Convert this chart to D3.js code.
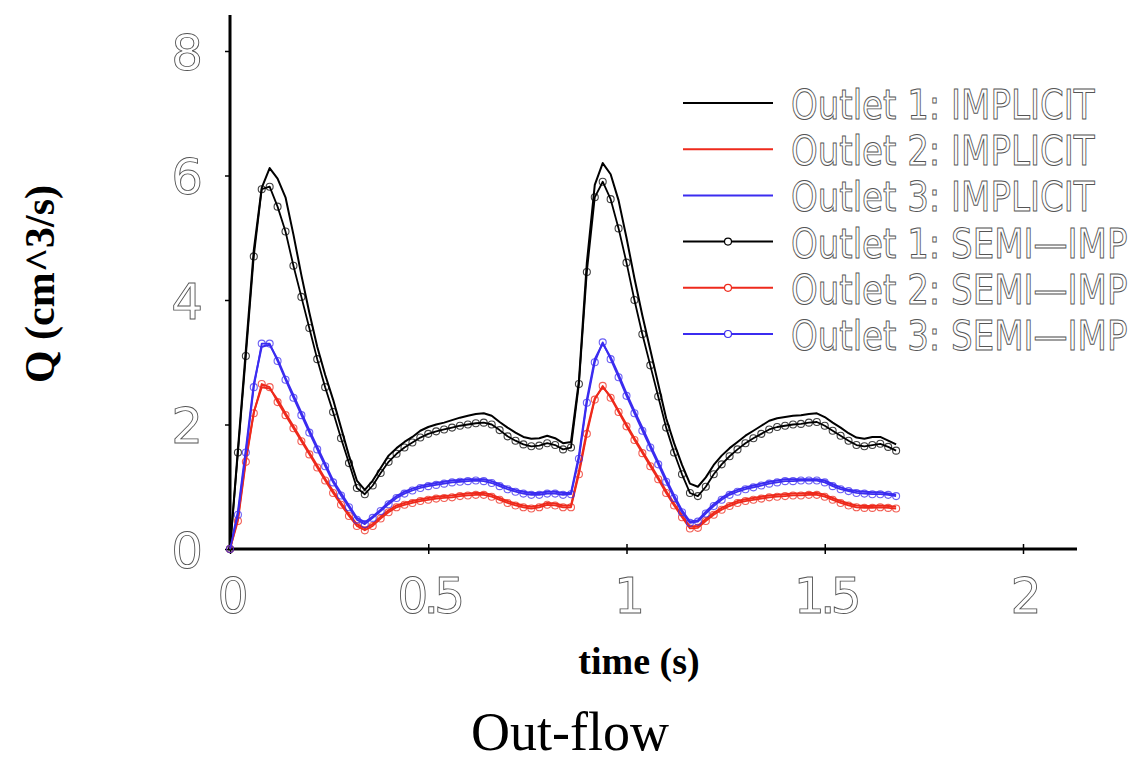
<!DOCTYPE html>
<html>
<head>
<meta charset="utf-8">
<script src="https://cdn.jsdelivr.net/npm/d3@7"></script>
<style>
  body { margin: 0; background: #fff; }
  svg { display: block; }
</style>
</head>
<body>
<svg id="chart" width="1138" height="765"></svg>
<script>
// sample times (s), one value every 0.02 s
const time = d3.range(0, 85).map(i => +(i * 0.02).toFixed(2));

// flow rates Q (cm^3/s)
const outlet1Implicit = [0, 1.6, 3.2, 4.8, 5.8, 6.12, 5.95, 5.65, 5.05, 4.4, 3.8, 3.25, 2.8, 2.4, 1.95, 1.5, 1.1, 0.95, 1.1, 1.3,
  1.5, 1.62, 1.72, 1.8, 1.9, 1.96, 2.0, 2.03, 2.07, 2.11, 2.14, 2.17, 2.18, 2.14, 2.04, 1.95, 1.87, 1.8, 1.77, 1.78,
  1.82, 1.78, 1.7, 1.72, 2.7, 4.6, 5.85, 6.2, 6.02, 5.6, 5.0, 4.35, 3.75, 3.2, 2.65, 2.1, 1.7, 1.35, 1.05, 1.0,
  1.15, 1.35, 1.5, 1.62, 1.72, 1.82, 1.9, 1.98, 2.06, 2.1, 2.12, 2.14, 2.15, 2.17, 2.18, 2.12, 2.03, 1.95, 1.86, 1.79,
  1.77, 1.8, 1.8, 1.74, 1.68];
const outlet2Implicit = [0, 0.5, 1.45, 2.2, 2.6, 2.58, 2.4, 2.18, 1.97, 1.76, 1.55, 1.34, 1.13, 0.93, 0.74, 0.56, 0.4, 0.33, 0.4, 0.52,
  0.62, 0.7, 0.74, 0.77, 0.8, 0.82, 0.84, 0.85, 0.86, 0.88, 0.89, 0.9, 0.9, 0.87, 0.82, 0.77, 0.73, 0.7, 0.68, 0.7,
  0.74, 0.73, 0.7, 0.7, 1.25, 1.9, 2.42, 2.6, 2.45, 2.22, 2.0, 1.78, 1.57, 1.36, 1.15, 0.93, 0.73, 0.54, 0.36, 0.37,
  0.48, 0.58, 0.66, 0.72, 0.77, 0.8, 0.82, 0.84, 0.86, 0.87, 0.88, 0.89, 0.89, 0.9, 0.9, 0.87, 0.82, 0.77, 0.73, 0.7,
  0.69, 0.69, 0.7, 0.69, 0.68];
const outlet3Implicit = [0, 0.6, 1.6, 2.65, 3.25, 3.28, 3.05, 2.75, 2.47, 2.19, 1.91, 1.64, 1.37, 1.1, 0.9, 0.7, 0.5, 0.43, 0.52, 0.63,
  0.75, 0.85, 0.92, 0.97, 1.01, 1.04, 1.06, 1.08, 1.1, 1.11, 1.12, 1.12, 1.12, 1.09, 1.04, 0.99, 0.95, 0.92, 0.9, 0.9,
  0.92, 0.92, 0.9, 0.9, 1.5, 2.4, 3.05, 3.3, 3.08, 2.8, 2.5, 2.22, 1.95, 1.67, 1.4, 1.12, 0.86, 0.62, 0.44, 0.46,
  0.6, 0.72, 0.82, 0.9, 0.95, 0.99, 1.02, 1.05, 1.08, 1.1, 1.12, 1.12, 1.12, 1.12, 1.12, 1.1, 1.04, 0.99, 0.95, 0.93,
  0.92, 0.91, 0.91, 0.89, 0.87];
const outlet1Semi = [0, 1.55, 3.1, 4.7, 5.78, 5.82, 5.5, 5.1, 4.55, 4.05, 3.55, 3.05, 2.6, 2.2, 1.78, 1.38, 0.98, 0.88, 1.02, 1.22,
  1.4, 1.53, 1.63, 1.71, 1.79, 1.85, 1.89, 1.92, 1.95, 1.98, 2.0, 2.02, 2.03, 2.0, 1.91, 1.81, 1.74, 1.68, 1.65, 1.66,
  1.7, 1.67, 1.6, 1.63, 2.65, 4.45, 5.65, 5.9, 5.62, 5.15, 4.6, 4.0, 3.45, 2.95, 2.45, 1.95, 1.55, 1.2, 0.9, 0.85,
  1.0, 1.2, 1.36, 1.49, 1.6, 1.7, 1.78, 1.85, 1.92, 1.96, 1.98, 2.0, 2.01, 2.03, 2.04, 1.98, 1.9, 1.82, 1.74, 1.67,
  1.65, 1.67, 1.69, 1.64, 1.58];
const outlet2Semi = [0, 0.45, 1.4, 2.18, 2.65, 2.6, 2.36, 2.15, 1.94, 1.73, 1.52, 1.31, 1.1, 0.9, 0.71, 0.53, 0.37, 0.3, 0.37, 0.49,
  0.59, 0.67, 0.71, 0.74, 0.77, 0.79, 0.81, 0.82, 0.83, 0.85, 0.86, 0.87, 0.87, 0.84, 0.79, 0.74, 0.7, 0.67, 0.65, 0.67,
  0.71, 0.7, 0.67, 0.67, 1.2, 1.85, 2.4, 2.62, 2.43, 2.2, 1.97, 1.75, 1.54, 1.33, 1.12, 0.9, 0.7, 0.51, 0.33, 0.34,
  0.45, 0.55, 0.63, 0.69, 0.74, 0.77, 0.79, 0.81, 0.83, 0.84, 0.85, 0.86, 0.86, 0.87, 0.87, 0.84, 0.79, 0.74, 0.7, 0.67,
  0.66, 0.66, 0.67, 0.66, 0.65];
const outlet3Semi = [0, 0.55, 1.55, 2.6, 3.3, 3.3, 3.02, 2.72, 2.43, 2.15, 1.87, 1.6, 1.33, 1.07, 0.86, 0.67, 0.47, 0.4, 0.5, 0.61,
  0.72, 0.82, 0.89, 0.94, 0.98, 1.01, 1.03, 1.05, 1.07, 1.08, 1.09, 1.1, 1.09, 1.06, 1.01, 0.96, 0.92, 0.89, 0.87, 0.87,
  0.89, 0.89, 0.87, 0.88, 1.45, 2.35, 3.0, 3.32, 3.05, 2.76, 2.46, 2.18, 1.9, 1.63, 1.36, 1.08, 0.82, 0.59, 0.42, 0.44,
  0.57, 0.69, 0.79, 0.87, 0.92, 0.96, 0.99, 1.02, 1.05, 1.07, 1.09, 1.09, 1.1, 1.1, 1.1, 1.07, 1.01, 0.96, 0.93, 0.9,
  0.89, 0.88, 0.88, 0.87, 0.85];

const seriesNames = ['Outlet 1: IMPLICIT', 'Outlet 2: IMPLICIT', 'Outlet 3: IMPLICIT',
  'Outlet 1: SEMI\u2014IMP', 'Outlet 2: SEMI\u2014IMP', 'Outlet 3: SEMI\u2014IMP'];
const seriesValues = [outlet1Implicit, outlet2Implicit, outlet3Implicit, outlet1Semi, outlet2Semi, outlet3Semi];
const xTicks = [0, 0.5, 1, 1.5, 2];
const yTicks = [0, 2, 4, 6, 8];

const colors = ['#000000', '#ee2a1c', '#3b2cf0'];

const svg = d3.select('#chart');

// Scales
const x = d3.scaleLinear().domain([0, 2]).range([230, 1023]);
const y = d3.scaleLinear().domain([0, 8]).range([549, 51]);
const xEnd = 1077, yTop = 15;

const tickFont = "'DejaVu Sans', sans-serif";
const textGrey = '#555';

// Axes
const xAxis = svg.append('g').attr('transform', 'translate(0,549)')
  .call(d3.axisBottom(x).tickValues(xTicks).tickSize(0).tickFormat(d3.format('')));
xAxis.select('.domain').remove();
xAxis.append('line').attr('x1', 228).attr('x2', xEnd).attr('stroke', '#000').attr('stroke-width', 3);
xAxis.selectAll('.tick line').remove();
xAxis.selectAll('.tick').append('line').attr('y1', -5).attr('y2', 5).attr('stroke', '#000').attr('stroke-width', 1.5);
xAxis.selectAll('.tick text')
  .attr('y', 64).attr('dy', 0)
  .attr('font-family', tickFont).attr('font-size', 49)
  .attr('letter-spacing', -5)
  .attr('fill', '#fff').attr('stroke', textGrey).attr('stroke-width', 0.9);

const yAxis = svg.append('g').attr('transform', 'translate(230,0)')
  .call(d3.axisLeft(y).tickValues(yTicks).tickSize(0).tickFormat(d3.format('d')));
yAxis.select('.domain').remove();
yAxis.append('line').attr('y1', yTop).attr('y2', 550).attr('stroke', '#000').attr('stroke-width', 3);
yAxis.selectAll('.tick line').remove();
yAxis.selectAll('.tick').append('line').attr('x1', -5).attr('x2', 0).attr('stroke', '#000').attr('stroke-width', 1.5);
yAxis.selectAll('.tick text')
  .attr('x', -27).attr('dy', 18)
  .attr('font-family', tickFont).attr('font-size', 50)
  .attr('fill', '#fff').attr('stroke', textGrey).attr('stroke-width', 0.9);

// Titles
svg.append('text')
  .attr('transform', 'translate(54,284) rotate(-90)')
  .attr('text-anchor', 'middle')
  .attr('font-family', "'Liberation Serif', serif").attr('font-weight', 'bold').attr('font-size', 42)
  .text('Q (cm^3/s)');

svg.append('text')
  .attr('x', 639).attr('y', 674)
  .attr('text-anchor', 'middle')
  .attr('font-family', "'Liberation Serif', serif").attr('font-weight', 'bold').attr('font-size', 38)
  .text('time (s)');

svg.append('text')
  .attr('x', 570).attr('y', 750)
  .attr('text-anchor', 'middle')
  .attr('font-family', "'Liberation Serif', serif").attr('font-size', 54)
  .text('Out-flow');

// Lines
const line = d3.line()
  .x((d, i) => x(time[i]))
  .y(d => y(d));

const plot = svg.append('g');

seriesValues.forEach((vals, s) => {
  const c = colors[s % 3];
  plot.append('path')
    .datum(vals)
    .attr('d', line)
    .attr('fill', 'none')
    .attr('stroke', c)
    .attr('stroke-width', s < 3 ? 2 : 1.8)
    .attr('stroke-linejoin', 'round');
  if (s >= 3) {
    plot.append('g').selectAll('circle')
      .data(vals)
      .enter().append('circle')
      .attr('cx', (d, i) => x(time[i]))
      .attr('cy', d => y(d))
      .attr('r', 3.5)
      .attr('fill', 'none')
      .attr('stroke', c)
      .attr('stroke-opacity', 0.75)
      .attr('stroke-width', 1.1);
  }
});

// Legend
const legend = svg.append('g');
const rowY = d3.scaleLinear().domain([0, 5]).range([103, 334]);
seriesNames.forEach((name, s) => {
  const c = colors[s % 3];
  const yy = rowY(s);
  legend.append('line')
    .attr('x1', 683).attr('x2', 773).attr('y1', yy).attr('y2', yy)
    .attr('stroke', c).attr('stroke-width', 2);
  if (s >= 3) {
    legend.append('circle')
      .attr('cx', 728).attr('cy', yy).attr('r', 3.5)
      .attr('fill', '#fff').attr('stroke', c).attr('stroke-width', 1.2);
  }
  // narrow the glyphs to match the original plotting font
  legend.append('text')
    .attr('transform', `translate(791,${yy + 16}) scale(0.83,1)`)
    .attr('font-family', tickFont).attr('font-size', 41)
    .attr('fill', '#fff').attr('stroke', textGrey).attr('stroke-width', 1)
    .text(name);
});
</script>
</body>
</html>
